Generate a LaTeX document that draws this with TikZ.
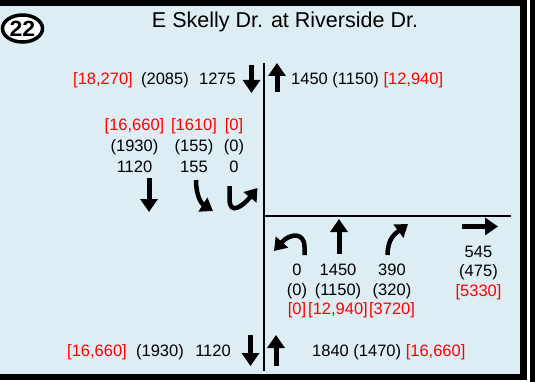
\documentclass[tikz,border=0pt]{standalone}
\usepackage{fontspec}
\setmainfont{Liberation Sans}
\usetikzlibrary{arrows.meta,shapes.geometric}
\definecolor{bgblue}{RGB}{220,237,243}
\definecolor{numred}{RGB}{255,0,0}
\begin{document}
\begin{tikzpicture}[x=1pt,y=-1pt,
  num/.style={font=\fontsize{16.5}{18}\selectfont, inner sep=0pt, anchor=base},
  rnum/.style={num, text=numred},
  blk/.style={line width=5pt, -{Triangle[width=17pt,length=13pt]}},
  crv/.style={line width=4.5pt, -{Triangle[width=16pt,length=12pt]}},
  road/.style={line width=2pt}
]
\useasboundingbox (0,0) rectangle (540,382);
% frame
\fill[bgblue] (0,5) rectangle (521,374);
\fill[black] (0,0) rectangle (527,6);
\fill[black] (520,0) rectangle (527,380);
\fill[black] (0,373.5) rectangle (527,380);
\fill[black] (530,0) rectangle (535,382);
% badge and title
\node[draw, line width=3.5pt, fill=white, ellipse, minimum width=40pt, minimum height=27pt, inner sep=0pt] (badge) at (22.5,28.5) {};
\node[inner sep=0pt, font=\fontsize{22}{22}\selectfont\bfseries, xscale=1.05] (badgetxt) at (badge) {22};
\node[anchor=base, inner sep=0pt, font=\fontsize{21.5}{23}\selectfont] (title) at (285,28) {E Skelly Dr. at Riverside Dr.};
% roads
\coordinate (vtop) at (263.5,63);
\coordinate (vbot) at (263.5,371);
\coordinate (hleft) at (263.5,216);
\coordinate (hright) at (511,216);
\draw[road] (vtop) -- (vbot);
\draw[line width=1.5pt] (hleft) -- (hright);
% top row
\node[rnum] (tl1) at (103,85) {[18,270]};
\node[num] (tl2) at (165,85) {(2085)};
\node[num] (tl3) at (217.5,85) {1275};
\node[num, anchor=base west] (tr) at (291,85) {1450 (1150) \textcolor{numred}{[12,940]}};
\coordinate (tda) at (251.5,65); \coordinate (tdb) at (251.5,93);
\coordinate (tua) at (277,92); \coordinate (tub) at (277,63);
\draw[blk] (tda) -- (tdb);
\draw[blk] (tua) -- (tub);
% southbound movements
\node[rnum] (s1r) at (134.5,131) {[16,660]};
\node[rnum] (s2r) at (194,131) {[1610]};
\node[rnum] (s3r) at (234,131) {[0]};
\node[num] (s1p) at (134.5,151.5) {(1930)};
\node[num] (s2p) at (194,151.5) {(155)};
\node[num] (s3p) at (234,151.5) {(0)};
\node[num] (s1v) at (134.5,172) {1120};
\node[num] (s2v) at (194,172) {155};
\node[num] (s3v) at (234,172) {0};
\coordinate (sda) at (149,178); \coordinate (sdb) at (149,212);
\draw[blk] (sda) -- (sdb);
\coordinate (sra) at (196,180); \coordinate (srb) at (213,211);
\draw[crv] (sra) .. controls (196,197) and (202,204) .. (srb);
\coordinate (sua) at (229.5,186); \coordinate (sum) at (229.5,199); \coordinate (sub) at (257.5,188);
\draw[crv] (sua) -- (sum) .. controls (229.5,216) and (243,206) .. (sub);
% northbound movements
\coordinate (nua) at (304.5,255); \coordinate (num) at (304.5,247); \coordinate (nub) at (274,251);
\draw[crv] (nua) -- (num) .. controls (304.5,232) and (290,233) .. (nub);
\coordinate (nta) at (339,254); \coordinate (ntb) at (339,219);
\draw[blk] (nta) -- (ntb);
\coordinate (nra) at (387.5,255); \coordinate (nrb) at (408,224);
\draw[crv] (nra) .. controls (387.5,238) and (396,233) .. (nrb);
\node[num] (n1v) at (297,275) {0};
\node[num] (n2v) at (338,275) {1450};
\node[num] (n3v) at (392,275) {390};
\node[num] (n1p) at (297,295) {(0)};
\node[num] (n2p) at (338,295) {(1150)};
\node[num] (n3p) at (392,295) {(320)};
\node[rnum] (n1r) at (297,314.5) {[0]};
\node[rnum] (n2r) at (338,314.5) {[12,940]};
\node[rnum] (n3r) at (392,314.5) {[3720]};
% eastbound
\coordinate (ea) at (462,226.5); \coordinate (eb) at (498,226.5);
\draw[blk] (ea) -- (eb);
\node[num] (ev) at (478.5,257) {545};
\node[num] (ep) at (478.5,276.5) {(475)};
\node[rnum] (er) at (478.5,296) {[5330]};
% bottom row
\node[rnum] (bl1) at (97,356) {[16,660]};
\node[num] (bl2) at (160,356) {(1930)};
\node[num] (bl3) at (213,356) {1120};
\node[num, anchor=base west] (br) at (312,356) {1840 (1470) \textcolor{numred}{[16,660]}};
\coordinate (bda) at (250.5,335); \coordinate (bdb) at (250.5,366);
\coordinate (bua) at (276,366); \coordinate (bub) at (276,335);
\draw[blk] (bda) -- (bdb);
\draw[blk] (bua) -- (bub);
\end{tikzpicture}
\end{document}
